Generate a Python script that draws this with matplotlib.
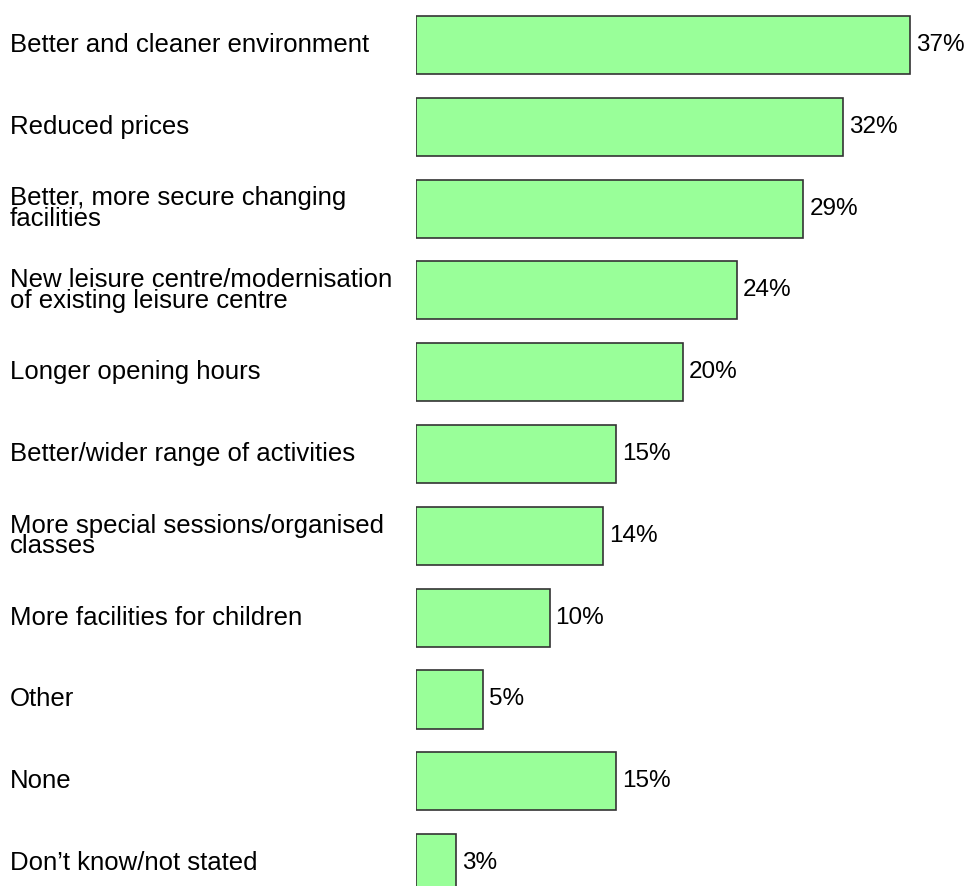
import matplotlib
matplotlib.use("Agg")
import matplotlib.pyplot as plt
import matplotlib.transforms as mtransforms

plt.rcParams['font.family'] = ['Liberation Sans', 'DejaVu Sans']

labels = [
    "Better and cleaner environment",
    "Reduced prices",
    "Better, more secure changing\nfacilities",
    "New leisure centre/modernisation\nof existing leisure centre",
    "Longer opening hours",
    "Better/wider range of activities",
    "More special sessions/organised\nclasses",
    "More facilities for children",
    "Other",
    "None",
    "Don\u2019t know/not stated",
]
values = [37, 32, 29, 24, 20, 15, 14, 10, 5, 15, 3]

W, H = 973, 886
fig = plt.figure(figsize=(W / 100, H / 100), dpi=100)
ax = fig.add_axes([416 / W, 0, 1 - 416 / W, 1])

ypos = list(range(len(values)))
ax.barh(ypos, values, height=0.71, color="#99ff99", edgecolor="#333333",
        linewidth=1.2, align="center")
ax.set_xlim(0, 41.7)
ax.set_ylim(10.28, -0.55)
ax.axis("off")

# category names sit at the left edge of the figure
trans = mtransforms.blended_transform_factory(fig.transFigure, ax.transData)
for y, lab in zip(ypos, labels):
    ax.text(10 / W, y, lab, transform=trans, ha="left", va="center",
            fontsize=18.5, linespacing=0.82, clip_on=False)

# value labels just past the bar ends
for y, v in zip(ypos, values):
    ax.annotate(f"{v}%", (v, y), xytext=(6, 0), textcoords="offset pixels",
                ha="left", va="center", fontsize=17.5, annotation_clip=False)

fig.savefig("out.png", dpi=100)
